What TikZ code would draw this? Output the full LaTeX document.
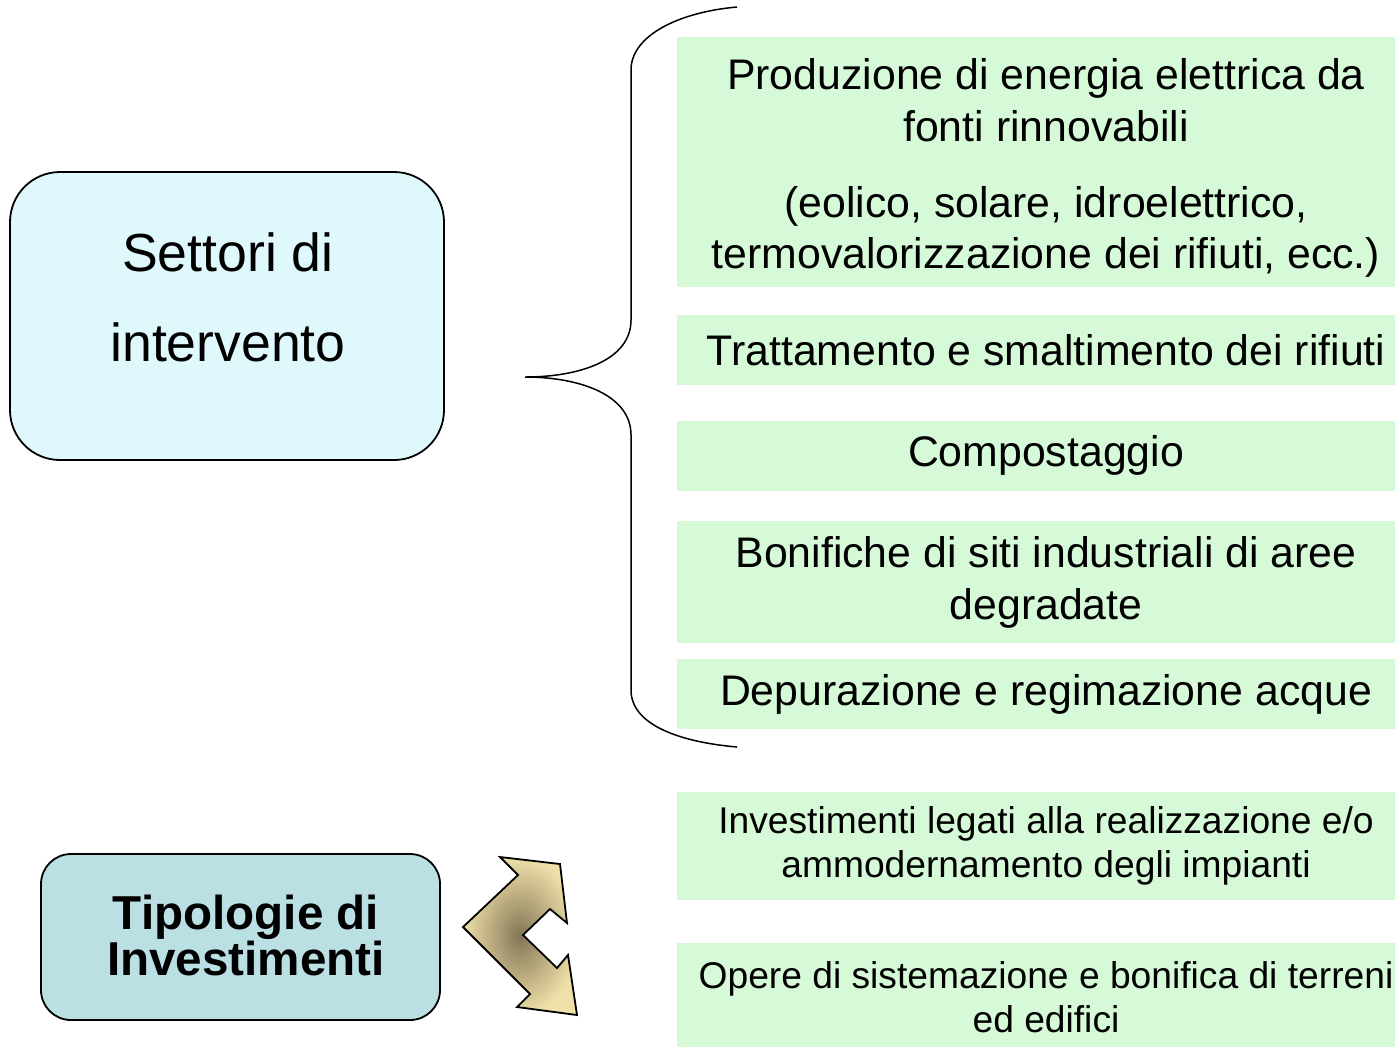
\documentclass[tikz,border=0pt]{standalone}
\usepackage{fontspec}
\setmainfont{Liberation Sans}
\usetikzlibrary{positioning}
\definecolor{skyfill}{RGB}{223,248,252}
\definecolor{tealfill}{RGB}{186,224,228}
\definecolor{mintfill}{RGB}{214,250,216}
\definecolor{sandlight}{RGB}{238,224,168}
\definecolor{sanddark}{RGB}{132,118,86}
\begin{document}
\begin{tikzpicture}[x=0.5pt,y=-0.5pt,
sector/.style={draw,line width=0.9pt,rounded corners=25pt,fill=skyfill,minimum width=217pt,minimum height=144pt},
kind/.style={draw,line width=0.9pt,rounded corners=15pt,fill=tealfill,minimum width=199.5pt,minimum height=83pt},
item/.style={fill=mintfill,minimum width=369pt,align=center,inner sep=0pt,font=\fontsize{21.4}{25.8}\selectfont},
subitem/.style={item,font=\fontsize{18.6}{22}\selectfont}]
\useasboundingbox (0,0) rectangle (1395,1046);
\node[sector] (settori) at (227,316) {};
\node[align=center,font=\fontsize{26.8}{45}\selectfont] (settoriTxt) at (228,297) {Settori di\\intervento};
\node[kind] (tipologie) at (240.5,937) {};
\node[align=center,font=\fontsize{23.8}{23}\selectfont\bfseries] (tipologieTxt) at (246,935) {Tipologie di\\Investimenti};
\node[item,minimum height=125pt] (g1) at (1046,162) {\\[-4pt]Produzione di energia elettrica da\\fonti rinnovabili\\[12pt](eolico, solare, idroelettrico,\\termovalorizzazione dei rifiuti, ecc.)};
\node[item,minimum height=35pt,below=13.5pt of g1] (g2) {Trattamento e smaltimento dei rifiuti};
\node[item,minimum height=35pt,below=17.5pt of g2] (g3) {Compostaggio};
\node[item,minimum height=61pt,below=15pt of g3] (g4) {Bonifiche di siti industriali di aree\\degradate};
\node[item,minimum height=35pt,below=7.5pt of g4] (g5) {Depurazione e regimazione acque};
\node[subitem,minimum height=54pt] (g6) at (1046,846) {Investimenti legati alla realizzazione e/o\\ammodernamento degli impianti};
\node[subitem,minimum height=54pt,below=21pt of g6] (g7) {Opere di sistemazione e bonifica di terreni\\ed edifici};
% brace
\coordinate (tip) at (525,377);
\draw[line width=0.75pt] (737,7) .. controls (680,12) and (631,35) .. (631,70) -- (631,320) .. controls (631,360) and (580,377) .. (tip) .. controls (580,377) and (631,395) .. (631,435) -- (631,690) .. controls (631,725) and (680,742) .. (737,747);
% double arrow
\shadedraw[line width=0.9pt,inner color=sanddark,outer color=sandlight] (500,857) -- (560,864) -- (567,923) -- (550,909) -- (523,935) -- (557,968) -- (568,955) -- (577,1015) -- (517,1007) -- (530,994) -- (463,927) -- (518,875) -- cycle;
\end{tikzpicture}
\end{document}
